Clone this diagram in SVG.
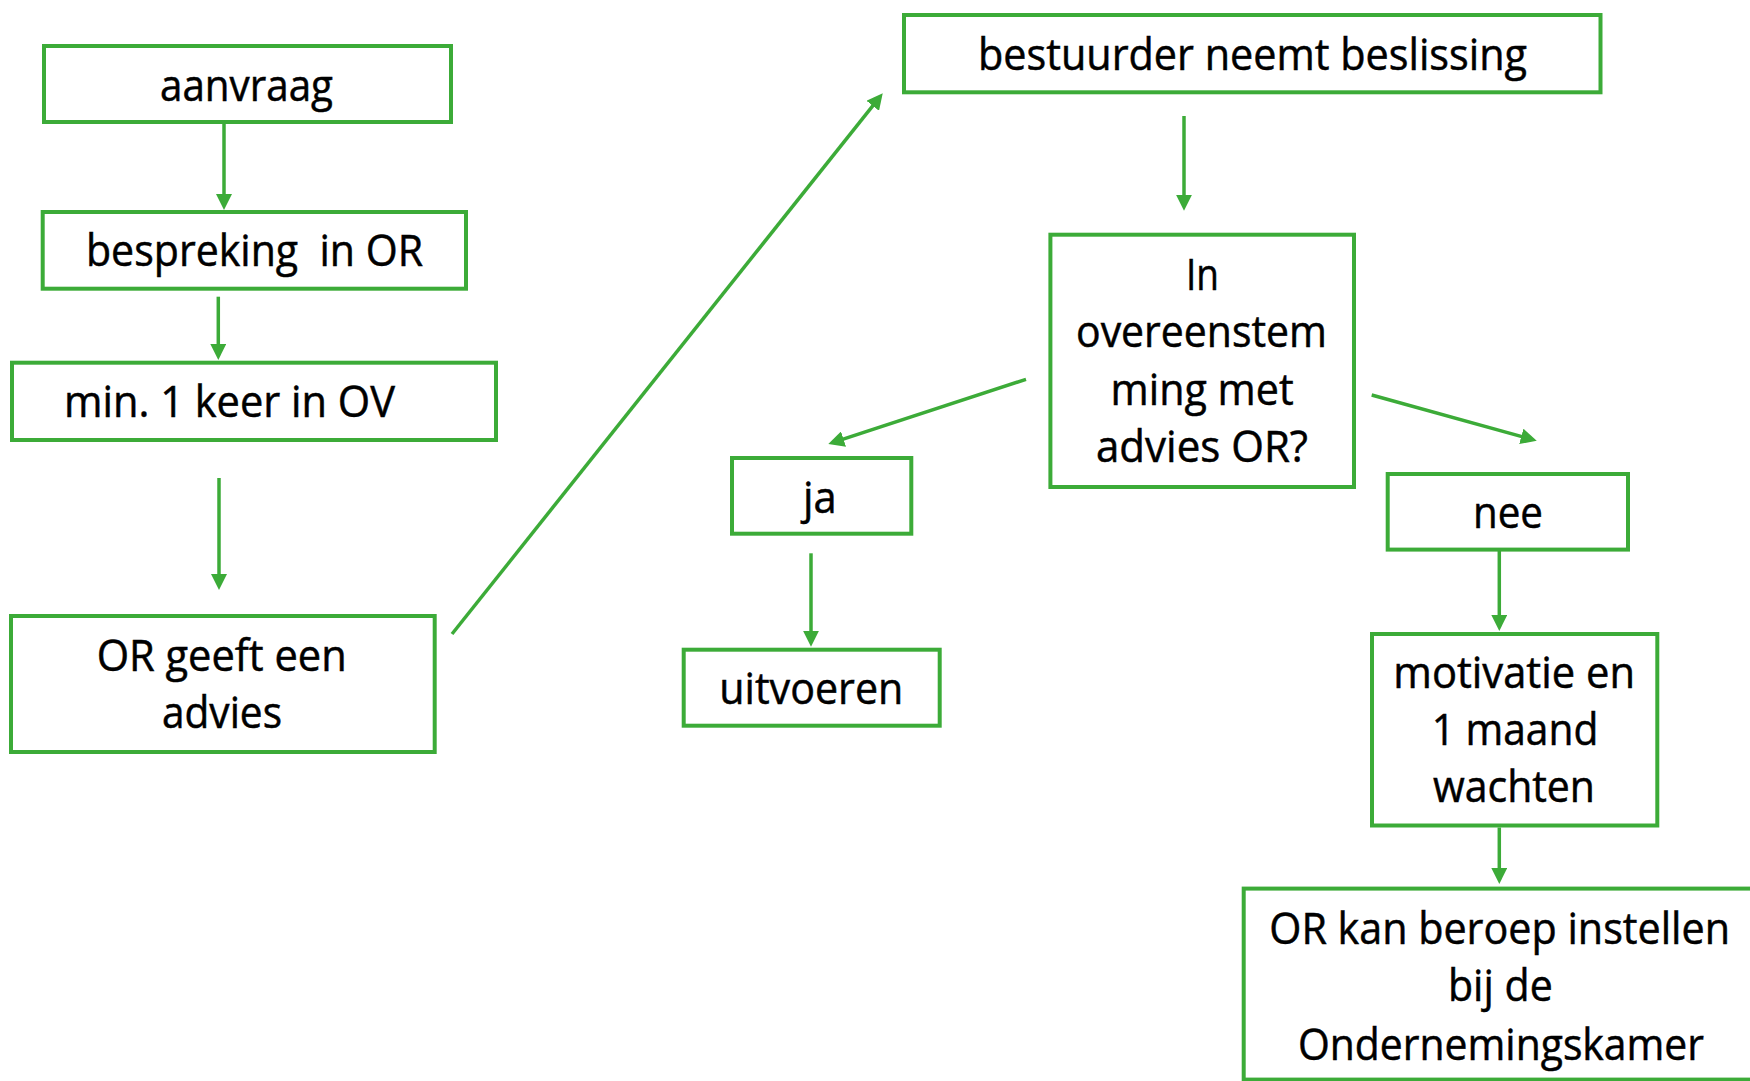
<svg xmlns="http://www.w3.org/2000/svg" width="1750" height="1081" viewBox="0 0 1750 1081">
<style>
.box{fill:#ffffff;stroke:#3cab38;stroke-width:4}
.lbl{font-family:"Open Sans","Liberation Sans",sans-serif;font-size:43px;fill:#000000;stroke:#000000;stroke-width:0.5}
.con{stroke:#3cab38;stroke-width:3.5;fill:none;marker-end:url(#ah)}
</style>
<defs>
<marker id="ah" markerUnits="userSpaceOnUse" markerWidth="16" markerHeight="16" refX="6" refY="8" orient="auto">
<path d="M0,0 L16,8 L0,16 z" fill="#3cab38"/>
</marker>
</defs>
<rect width="1750" height="1081" fill="#ffffff"/>
<g id="connectors">
<line class="con" x1="224" y1="124" x2="224" y2="200"/>
<line class="con" x1="218.3" y1="296.7" x2="218.3" y2="350"/>
<line class="con" x1="219" y1="478" x2="219" y2="580"/>
<line class="con" x1="452" y1="634" x2="876.5" y2="101.1"/>
<line class="con" x1="1184" y1="116" x2="1184" y2="200.7"/>
<line class="con" x1="1026" y1="379.3" x2="837.8" y2="440.9"/>
<line class="con" x1="1371.7" y1="395" x2="1527.1" y2="438"/>
<line class="con" x1="811" y1="553.3" x2="811" y2="636.7"/>
<line class="con" x1="1499.3" y1="550.6" x2="1499.3" y2="621"/>
<line class="con" x1="1499.3" y1="827.5" x2="1499.3" y2="874"/>
</g>
<g id="aanvraag">
<rect class="box" x="44" y="46" width="407" height="76"/>
<text class="lbl" x="160" y="101" textLength="173" lengthAdjust="spacingAndGlyphs">aanvraag</text>
</g>
<g id="bespreking">
<rect class="box" x="42.7" y="212" width="423.3" height="76.7"/>
<text class="lbl" x="86" y="265.5" textLength="337" lengthAdjust="spacingAndGlyphs" xml:space="preserve">bespreking  in OR</text>
</g>
<g id="ov">
<rect class="box" x="12" y="362.7" width="484" height="77.3"/>
<text class="lbl" x="64" y="417" textLength="331" lengthAdjust="spacingAndGlyphs">min. 1 keer in OV</text>
</g>
<g id="advies">
<rect class="box" x="11" y="616" width="423.7" height="136"/>
<text class="lbl" x="96.7" y="671" textLength="250" lengthAdjust="spacingAndGlyphs">OR geeft een</text>
<text class="lbl" x="162" y="727.5" textLength="120" lengthAdjust="spacingAndGlyphs">advies</text>
</g>
<g id="bestuurder">
<rect class="box" x="904" y="15" width="696.5" height="77.3"/>
<text class="lbl" x="978" y="69.5" textLength="549" lengthAdjust="spacingAndGlyphs">bestuurder neemt beslissing</text>
</g>
<g id="beslissing">
<rect class="box" x="1050.4" y="234.7" width="303.6" height="252.3"/>
<text class="lbl" x="1186" y="289.5" textLength="33" lengthAdjust="spacingAndGlyphs">In</text>
<text class="lbl" x="1076" y="347" textLength="251" lengthAdjust="spacingAndGlyphs">overeenstem</text>
<text class="lbl" x="1110.6" y="404.5" textLength="183" lengthAdjust="spacingAndGlyphs">ming met</text>
<text class="lbl" x="1096" y="462" textLength="212" lengthAdjust="spacingAndGlyphs">advies OR?</text>
</g>
<g id="ja">
<rect class="box" x="732" y="458" width="179.3" height="75.7"/>
<text class="lbl" x="803" y="513" textLength="33.7" lengthAdjust="spacingAndGlyphs">ja</text>
</g>
<g id="uitvoeren">
<rect class="box" x="683.7" y="649.7" width="256" height="76"/>
<text class="lbl" x="719.3" y="703.5" textLength="184" lengthAdjust="spacingAndGlyphs">uitvoeren</text>
</g>
<g id="nee">
<rect class="box" x="1387.7" y="474" width="240.3" height="75.6"/>
<text class="lbl" x="1473" y="527.5" textLength="70" lengthAdjust="spacingAndGlyphs">nee</text>
</g>
<g id="motivatie">
<rect class="box" x="1372" y="634" width="285.3" height="191.5"/>
<text class="lbl" x="1393.3" y="687.5" textLength="241.7" lengthAdjust="spacingAndGlyphs">motivatie en</text>
<text class="lbl" x="1431.7" y="745" textLength="166.7" lengthAdjust="spacingAndGlyphs">1 maand</text>
<text class="lbl" x="1433" y="802" textLength="162" lengthAdjust="spacingAndGlyphs">wachten</text>
</g>
<g id="beroep">
<rect class="box" x="1243.7" y="888.6" width="520" height="191"/>
<text class="lbl" x="1269.3" y="944" textLength="460.7" lengthAdjust="spacingAndGlyphs">OR kan beroep instellen</text>
<text class="lbl" x="1448" y="1001" textLength="104.7" lengthAdjust="spacingAndGlyphs">bij de</text>
<text class="lbl" x="1298" y="1060" textLength="406" lengthAdjust="spacingAndGlyphs">Ondernemingskamer</text>
</g>
</svg>
